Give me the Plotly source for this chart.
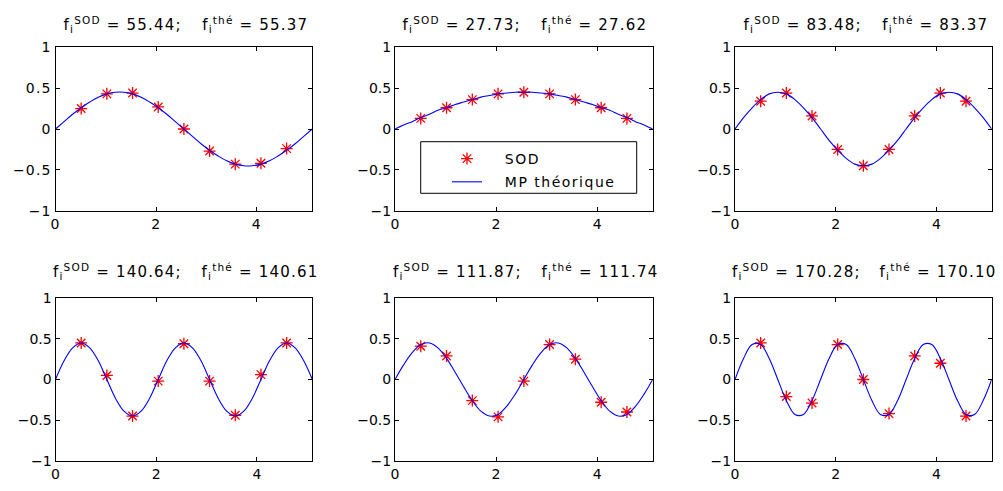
import plotly.graph_objects as go

W, H = 1003, 491

# ---------------- data ----------------
f_sod = [55.44, 27.73, 83.48, 140.64, 111.87, 170.28]
f_the = [55.37, 27.62, 83.37, 140.61, 111.74, 170.10]

x_sod = [0.51, 1.02, 1.53, 2.04, 2.55, 3.06, 3.57, 4.08, 4.59]
y_sod_1 = [0.25, 0.43, 0.44, 0.27, 0.00, -0.27, -0.43, -0.42, -0.24]
y_sod_2 = [0.13, 0.26, 0.36, 0.43, 0.45, 0.43, 0.36, 0.26, 0.13]
y_sod_3 = [0.34, 0.44, 0.16, -0.25, -0.45, -0.25, 0.16, 0.44, 0.34]
y_sod_4 = [0.45, 0.05, -0.45, -0.02, 0.44, -0.02, -0.44, 0.06, 0.45]
y_sod_5 = [0.41, 0.29, -0.26, -0.46, -0.02, 0.43, 0.25, -0.28, -0.40]
y_sod_6 = [0.45, -0.21, -0.29, 0.43, 0.00, -0.42, 0.29, 0.20, -0.45]

x_the = [0.00, 0.17, 0.34, 0.51, 0.68, 0.85, 1.02, 1.19, 1.36, 1.53, 1.70,
         1.87, 2.04, 2.21, 2.38, 2.55, 2.72, 2.89, 3.06, 3.23, 3.40, 3.57,
         3.74, 3.91, 4.08, 4.25, 4.42, 4.59, 4.76, 4.93, 5.10]
y_the_1 = [0, .09, .18, .26, .33, .39, .43, .45, .45, .43, .39, .33, .26, .18, .09, 0,
           -.09, -.18, -.26, -.33, -.39, -.43, -.45, -.45, -.43, -.39, -.33, -.26, -.18, -.09, 0]
y_the_2 = [0, .05, .09, .14, .18, .23, .26, .30, .33, .36, .39, .41, .43, .44, .45, .45,
           .45, .44, .43, .41, .39, .36, .33, .30, .26, .23, .18, .14, .09, .05, 0]
y_the_3 = [0, .14, .26, .36, .43, .45, .43, .36, .26, .14, 0, -.14, -.26, -.36, -.43, -.45,
           -.43, -.36, -.26, -.14, 0, .14, .26, .36, .43, .45, .43, .36, .26, .14, 0]
y_the_4 = [0, .23, .39, .45, .39, .23, 0, -.23, -.39, -.45, -.39, -.23, 0, .23, .39, .45,
           .39, .23, 0, -.23, -.39, -.45, -.39, -.23, 0, .23, .39, .45, .39, .23, 0]
y_the_5 = [0, .18, .33, .43, .45, .39, .26, .09, -.09, -.26, -.39, -.45, -.43, -.33, -.18, 0,
           .18, .33, .43, .45, .39, .26, .09, -.09, -.26, -.39, -.45, -.43, -.33, -.18, 0]
y_the_6 = [0, .26, .43, .43, .26, 0, -.26, -.43, -.43, -.26, 0, .26, .43, .43, .26, 0,
           -.26, -.43, -.43, -.26, 0, .26, .43, .43, .26, 0, -.26, -.43, -.43, -.26, 0]

x_ticks = [0, 2, 4]
x_ticktext = ["0", "2", "4"]
y_ticks = [-1, -0.5, 0, 0.5, 1]
y_ticktext = ["\u22121", "\u22120.5", "0", "0.5", "1"]
x_range = [0, 5.10]
y_range = [-1, 1]

y_sod_all = [y_sod_1, y_sod_2, y_sod_3, y_sod_4, y_sod_5, y_sod_6]
y_the_all = [y_the_1, y_the_2, y_the_3, y_the_4, y_the_5, y_the_6]

# ---------------- layout geometry (pixels) ----------------
col_px = [(55.5, 312.3), (395.0, 652.7), (735.0, 991.7)]
row_px = [(47.3, 210.7), (298.3, 460.7)]
title_a_cx = [[122, 461, 802.5], [117.5, 457.5, 796.5]]
title_b_cx = [[254.5, 594, 934.7], [259.7, 599.7, 938.2]]
title_cy = [24, 271.7]

FONT = "DejaVu Sans"
NB = "\u00a0"

def px_x(p):
    return p / W

def px_y(p):
    return 1 - p / H

fig = go.Figure()

for i in range(6):
    r, c = divmod(i, 3)
    n = i + 1
    xa = "x" if n == 1 else f"x{n}"
    ya = "y" if n == 1 else f"y{n}"
    fig.add_trace(go.Scatter(
        x=x_sod, y=y_sod_all[i], mode="markers", name=NB * 3 + "SOD" + NB * 3,
        marker=dict(symbol="asterisk-open", size=10, color="red",
                    line=dict(color="red", width=1.3)),
        showlegend=(i == 1), legendgroup="a", xaxis=xa, yaxis=ya))
    fig.add_trace(go.Scatter(
        x=x_the, y=y_the_all[i], mode="lines", name=NB * 3 + "MP théorique" + NB * 4,
        line=dict(color="rgb(0,0,255)", width=1.1, shape="spline", smoothing=1),
        showlegend=(i == 1), legendgroup="b", xaxis=xa, yaxis=ya))

    axis_common = dict(showline=True, linecolor="black", linewidth=1, mirror="ticks",
                       ticks="inside", ticklen=4, tickcolor="black", showgrid=False,
                       zeroline=False, automargin=False, tickmode="array",
                       tickfont=dict(family=FONT, size=14, color="black"))
    xd = [px_x(col_px[c][0]), px_x(col_px[c][1])]
    yd = [px_y(row_px[r][1]), px_y(row_px[r][0])]
    fig.update_layout({
        ("xaxis" if n == 1 else f"xaxis{n}"): dict(domain=xd, range=x_range, tickvals=x_ticks,
                                                    ticktext=x_ticktext, anchor=ya, **axis_common),
        ("yaxis" if n == 1 else f"yaxis{n}"): dict(domain=yd, range=y_range, tickvals=y_ticks,
                                                    ticktext=y_ticktext, anchor=xa, **axis_common),
    })

    fig.add_annotation(
        text=f"f<sub>i</sub><sup>SOD</sup> = {f_sod[i]:.2f};",
        x=px_x(title_a_cx[r][c]), y=px_y(title_cy[r]), xref="paper", yref="paper",
        xanchor="center", yanchor="middle", showarrow=False,
        font=dict(family=FONT, size=15, color="black"))
    fig.add_annotation(
        text=f"f<sub>i</sub><sup>thé</sup> = {f_the[i]:.2f}",
        x=px_x(title_b_cx[r][c]), y=px_y(title_cy[r]), xref="paper", yref="paper",
        xanchor="center", yanchor="middle", showarrow=False,
        font=dict(family=FONT, size=15, color="black"))

# legend box (drawn as a shape) in subplot 2
fig.add_shape(type="rect", xref="paper", yref="paper",
              x0=px_x(420.7), x1=px_x(636.7), y0=px_y(193.3), y1=px_y(141.7),
              line=dict(color="black", width=1), fillcolor="white", layer="above")

fig.update_layout(
    width=W, height=H, autosize=False,
    margin=dict(l=0, r=0, t=0, b=0, pad=0, autoexpand=False),
    paper_bgcolor="white", plot_bgcolor="white",
    showlegend=True,
    legend=dict(x=px_x(447), y=px_y(143), xanchor="left", yanchor="top",
                bgcolor="rgba(0,0,0,0)", borderwidth=0, tracegroupgap=2,
                font=dict(family=FONT, size=14, color="black")),
)

post = """
var st = document.createElement('style');
st.textContent = 'html,body{margin:0;padding:0;overflow:hidden;}' +
  ' .annotation-text{letter-spacing:1.2px;}' +
  ' .xtick text, .ytick text{letter-spacing:1.2px;}' +
  ' .legendtext{letter-spacing:1.5px;}';
document.head.appendChild(st);
"""

fig.write_html("out.html", post_script=post, config={"displayModeBar": False})
